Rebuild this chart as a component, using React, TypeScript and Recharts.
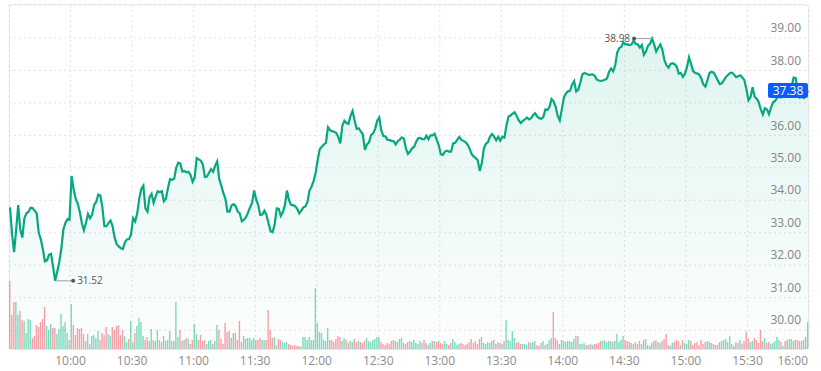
import React from "react";
import { ComposedChart, Area, Bar, Cell, XAxis, YAxis, CartesianGrid, ReferenceDot } from "recharts";

// One close per minute, 9:30 -> 16:00 (390 minutes).
const PRICE = [
  33.78, 32.95, 32.4, 33.1, 33.85, 33.1, 32.85, 33.45, 33.6, 33.65,
  33.77, 33.76, 33.68, 33.6, 33.0, 32.8, 32.5, 32.12, 32.15, 32.32,
  32.35, 31.95, 31.52, 31.8, 32.1, 32.5, 33.1, 33.3, 33.42, 33.4,
  34.75, 34.35, 34.05, 33.9, 33.65, 33.3, 33.08, 33.3, 33.58, 33.45,
  33.55, 33.86, 33.95, 34.18, 34.15, 33.8, 33.2, 33.2, 33.3, 33.38,
  33.2, 32.85, 32.65, 32.58, 32.52, 32.5, 32.7, 32.8, 32.8, 32.95,
  33.45, 33.35, 33.6, 34.05, 34.35, 34.45, 33.75, 33.65, 34.1, 34.2,
  33.92, 34.12, 34.28, 34.25, 34.28, 33.97, 34.05, 34.38, 34.65, 34.63,
  34.66, 35.0, 35.16, 35.13, 34.88, 34.9, 34.86, 34.88, 34.78, 34.57,
  34.7, 35.3, 35.26, 35.22, 35.1, 34.72, 34.73, 34.85, 34.96, 34.88,
  35.07, 35.2, 34.65, 34.45, 34.22, 34.05, 33.65, 33.65, 33.84, 33.88,
  33.82, 33.65, 33.6, 33.35, 33.4, 33.48, 33.62, 33.78, 33.92, 34.3,
  34.02, 33.85, 33.55, 33.56, 33.68, 33.55, 33.3, 33.05, 33.02, 33.25,
  33.75, 33.74, 33.52, 33.63, 33.85, 34.3, 34.0, 33.86, 33.85, 33.82,
  33.74, 33.6, 33.68, 33.78, 33.81, 33.95, 34.3, 34.42, 34.6, 34.85,
  35.25, 35.58, 35.65, 35.72, 35.77, 36.25, 36.16, 36.13, 36.11, 36.08,
  35.95, 35.75, 36.3, 36.45, 36.38, 36.35, 36.6, 36.75, 36.45, 36.2,
  36.22, 36.12, 36.03, 35.55, 35.72, 35.78, 36.01, 36.06, 36.2, 36.45,
  36.55, 36.15, 35.98, 35.97, 35.86, 35.86, 35.83, 35.82, 35.72, 35.82,
  35.87, 35.94, 35.9, 35.6, 35.43, 35.5, 35.6, 35.65, 35.8, 35.91,
  35.92, 35.88, 35.88, 35.99, 35.88, 36.0, 36.0, 36.05, 35.87, 35.7,
  35.42, 35.4, 35.5, 35.53, 35.5, 35.5, 35.75, 35.77, 35.86, 35.95,
  35.86, 35.83, 35.79, 35.72, 35.6, 35.43, 35.35, 35.3, 35.23, 34.9,
  35.15, 35.6, 35.74, 35.79, 35.96, 36.04, 35.96, 35.85, 35.96, 35.84,
  35.96, 35.93, 36.3, 36.58, 36.61, 36.67, 36.71, 36.6, 36.46, 36.38,
  36.45, 36.49, 36.55, 36.49, 36.53, 36.62, 36.68, 36.58, 36.53, 36.51,
  36.57, 36.8, 36.78, 36.88, 37.12, 37.05, 36.88, 36.6, 36.46, 36.8,
  37.16, 37.29, 37.36, 37.37, 37.56, 37.67, 37.35, 37.4, 37.62, 37.88,
  37.92, 37.9, 37.86, 37.87, 37.88, 37.84, 37.72, 37.69, 37.68, 37.69,
  37.71, 37.75, 37.95, 38.06, 37.97, 38.15, 38.55, 38.69, 38.72, 38.87,
  38.8, 38.8, 38.78, 38.8, 38.92, 38.82, 38.8, 38.7, 38.78, 38.48,
  38.58, 38.76, 38.82, 38.98, 38.8, 38.58, 38.7, 38.8, 38.64, 38.32,
  38.16, 38.08, 38.2, 38.22, 38.19, 38.12, 37.9, 37.92, 37.8, 37.9,
  38.1, 38.4, 38.2, 37.98, 37.92, 37.91, 37.87, 37.75, 37.57, 37.5,
  37.7, 37.92, 37.96, 37.93, 37.83, 37.7, 37.58, 37.6, 37.7, 37.8,
  37.86, 37.92, 37.93, 37.87, 37.79, 37.82, 37.85, 37.78, 37.7, 37.42,
  37.08, 37.18, 37.48, 37.19, 37.13, 37.02, 36.8, 36.64, 36.84, 36.8,
  36.65, 36.86, 37.02, 37.06, 37.16, 37.18, 37.17, 37.25, 37.22, 37.3,
  37.3, 37.48, 37.78, 37.76, 37.4, 37.16, 37.19, 37.15, 37.24, 37.38,
];

// Volume per minute, thousands of shares.
const VOLUME = [
  68, 34, 47, 47, 34, 38, 29, 28, 16, 30,
  29, 11, 13, 24, 22, 27, 30, 42, 23, 19,
  25, 21, 21, 15, 20, 35, 23, 27, 16, 9,
  45, 24, 14, 21, 20, 21, 15, 8, 15, 5,
  13, 14, 11, 18, 9, 16, 14, 22, 15, 13,
  22, 19, 23, 24, 14, 19, 13, 7, 10, 28,
  7, 16, 23, 31, 27, 13, 9, 12, 8, 20,
  9, 8, 19, 9, 7, 13, 8, 9, 18, 8,
  8, 47, 12, 19, 8, 9, 11, 10, 5, 9,
  25, 15, 9, 14, 8, 9, 5, 8, 9, 5,
  8, 24, 19, 10, 5, 26, 17, 18, 11, 16,
  16, 9, 28, 7, 13, 10, 11, 11, 9, 11,
  9, 9, 11, 9, 9, 9, 39, 19, 11, 12,
  4, 10, 9, 7, 6, 7, 5, 4, 3, 4,
  3, 3, 2, 12, 12, 9, 12, 9, 9, 61,
  26, 17, 16, 9, 8, 21, 9, 9, 7, 10,
  13, 12, 8, 11, 9, 6, 8, 7, 10, 7,
  8, 7, 6, 8, 11, 8, 7, 9, 10, 12,
  12, 7, 5, 4, 6, 5, 8, 9, 8, 7,
  10, 11, 6, 5, 7, 8, 7, 9, 6, 5,
  8, 6, 9, 6, 4, 6, 8, 8, 7, 8,
  6, 5, 8, 5, 4, 6, 10, 7, 4, 5,
  6, 5, 4, 5, 7, 10, 6, 8, 5, 10,
  12, 6, 5, 7, 6, 8, 9, 5, 7, 6,
  5, 8, 29, 9, 8, 18, 11, 6, 7, 5,
  5, 5, 4, 7, 6, 7, 8, 4, 3, 6,
  8, 4, 5, 9, 11, 37, 11, 9, 5, 9,
  8, 7, 8, 8, 7, 10, 13, 13, 5, 5,
  6, 4, 4, 5, 4, 5, 5, 6, 8, 8,
  9, 7, 8, 8, 7, 8, 15, 7, 9, 13,
  9, 8, 7, 6, 5, 7, 5, 8, 5, 9,
  10, 4, 3, 6, 8, 9, 7, 6, 8, 10,
  15, 4, 3, 6, 7, 9, 8, 4, 9, 6,
  5, 9, 8, 4, 6, 7, 4, 9, 5, 7,
  8, 7, 6, 5, 4, 4, 7, 8, 9, 10,
  7, 13, 5, 3, 7, 6, 9, 5, 8, 17,
  11, 7, 8, 11, 9, 6, 19, 8, 11, 6,
  7, 5, 6, 8, 12, 9, 7, 3, 8, 9,
  10, 10, 8, 9, 9, 8, 8, 9, 12, 27,
];

const TIME_TICKS = [30, 60, 90, 120, 150, 180, 210, 240, 270, 300, 330, 360, 390];
const TIME_LABELS = ["10:00", "10:30", "11:00", "11:30", "12:00", "12:30", "13:00", "13:30", "14:00", "14:30", "15:00", "15:30", "16:00"];
const PRICE_TICKS = [30, 31, 32, 33, 34, 35, 36, 37, 38, 39];

const LINE = "#05a880";
const UP = "#46c9a0";
const DOWN = "#f27882";
const FONT = "'Open Sans', sans-serif";

const rows = PRICE.map((p, i) => ({ t: i + 0.5, p, v: VOLUME[i], up: i > 0 && p > PRICE[i - 1] }));

let hi = 0, lo = 0;
PRICE.forEach((p, i) => { if (p > PRICE[hi]) hi = i; if (p < PRICE[lo]) lo = i; });
const last = rows[rows.length - 1];

function TimeTick(props: any) {
  const { x, y, payload } = props;
  const end = payload.value === 390;
  const label = TIME_LABELS[TIME_TICKS.indexOf(payload.value)];
  return (
    <text x={end ? x - 1 : x} y={y} dy="0.71em" textAnchor={end ? "end" : "middle"} fill="#8c8c8c" fontSize={12} fontFamily={FONT}>
      {label}
    </text>
  );
}

// price labels sit just above their gridline, inside the plot
function PriceTick(props: any) {
  const { x, y, payload } = props;
  if (payload.value === 37) return null; // hidden under the last-price tag
  return (
    <text x={x} y={y - 10} dy="0.35em" textAnchor="end" fill="#858585" fontSize={12} fontFamily={FONT}>
      {payload.value.toFixed(2)}
    </text>
  );
}

function Extreme(props: any) {
  const { cx, cy, text, side } = props;
  const dir = side === "left" ? -1 : 1;
  const ex = cx + dir * 18;
  return (
    <g>
      <line x1={cx} y1={cy} x2={ex} y2={cy} stroke="#a0a0a0" strokeWidth={1} />
      <circle cx={ex} cy={cy} r={2} fill="#555" />
      <text x={ex + dir * 4} y={cy} dy="0.35em" textAnchor={dir < 0 ? "end" : "start"} fontSize={10} fill="#555" fontFamily={FONT}>
        {text}
      </text>
    </g>
  );
}

function LastTag(props: any) {
  const { cx, cy } = props;
  return (
    <g>
      <rect x={cx - 40} y={cy - 7.5} width={40} height={15} rx={2} fill="#0b5cff" />
      <text x={cx - 20} y={cy} dy="0.36em" textAnchor="middle" fill="#fff" fontSize={12} fontFamily={FONT}>
        {last.p.toFixed(2)}
      </text>
    </g>
  );
}

export default function App() {
  return (
    <div style={{ position: "absolute", left: 0, top: 0, width: 821, height: 371, background: "#fff" }}>
      <div style={{ position: "absolute", left: 9, top: 4, width: 800, height: 346, boxSizing: "border-box", border: "1px solid #e8e8ec", borderRadius: 4, pointerEvents: "none" }} />
      <ComposedChart width={821} height={371} data={rows} margin={{ top: 5, right: 12, bottom: 0, left: 9 }}>
        <defs>
          <linearGradient id="pxFill" x1="0" y1="0" x2="0" y2="1">
            <stop offset="0%" stopColor="#12b088" stopOpacity={0.22} />
            <stop offset="100%" stopColor="#12b088" stopOpacity={0.02} />
          </linearGradient>
        </defs>
        <CartesianGrid yAxisId="price" stroke="#e2e2e2" strokeDasharray="2 3" />
        <XAxis dataKey="t" type="number" domain={[0, 390]} ticks={TIME_TICKS} interval={0}
          tick={<TimeTick />} axisLine={false} tickLine={false} tickMargin={1} height={22} />
        <YAxis yAxisId="price" orientation="right" mirror domain={[29.42, 40.015]} ticks={PRICE_TICKS}
          allowDataOverflow tick={<PriceTick />} axisLine={false} tickLine={false} />
        <YAxis yAxisId="vol" hide domain={[0, 344]} />
        <Bar yAxisId="vol" dataKey="v" barSize={1.4} isAnimationActive={false}>
          {rows.map((r, i) => (
            <Cell key={i} fill={r.up ? UP : DOWN} fillOpacity={0.7} />
          ))}
        </Bar>
        <Area yAxisId="price" type="linear" dataKey="p" stroke={LINE} strokeWidth={2.2} fill="url(#pxFill)"
          dot={false} activeDot={false} isAnimationActive={false} />
        <ReferenceDot yAxisId="price" x={rows[hi].t} y={rows[hi].p}
          shape={(p: any) => <Extreme {...p} side="left" text={rows[hi].p.toFixed(2)} />} />
        <ReferenceDot yAxisId="price" x={rows[lo].t} y={rows[lo].p}
          shape={(p: any) => <Extreme {...p} side="right" text={rows[lo].p.toFixed(2)} />} />
        <ReferenceDot yAxisId="price" x={last.t} y={last.p} shape={(p: any) => <LastTag {...p} />} />
      </ComposedChart>
    </div>
  );
}
